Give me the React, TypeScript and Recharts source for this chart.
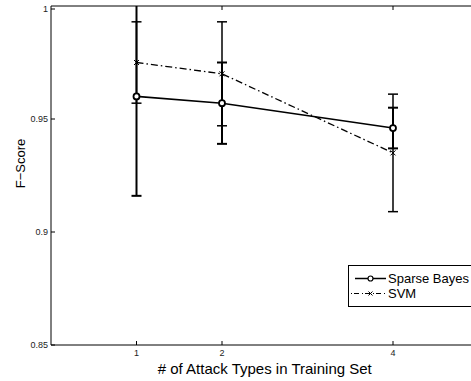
import { ComposedChart, Line, XAxis, YAxis, ErrorBar, Legend, Label } from "recharts";

const attackTypes = [1, 2, 4];
const sparseBayes = [0.96, 0.957, 0.946];
const sparseBayesErr = [0.044, 0.018, 0.009];
const svm = [0.975, 0.97, 0.935];
const svmErr = [0.018, 0.023, 0.026];
const xTicks = [1, 2, 4];
const yTicks = [0.85, 0.9, 0.95, 1];

const data = attackTypes.map((x, i) => ({
  x,
  sb: sparseBayes[i],
  sbErr: sparseBayesErr[i],
  svm: svm[i],
  svmErr: svmErr[i],
}));

const FONT = '"Liberation Sans", Arial, Helvetica, sans-serif';

function XTick({ x, y, payload }: any) {
  return (
    <g>
      <line x1={x} x2={x} y1={y} y2={y - 4} stroke="#000" />
      <text x={x} y={y + 11} textAnchor="middle" fontSize={9} fill="#222" style={{ fontFamily: FONT }}>
        {payload.value}
      </text>
    </g>
  );
}

function TopTick({ x, y }: any) {
  return <line x1={x} x2={x} y1={y} y2={y + 4} stroke="#000" />;
}

function YTick({ x, y, payload }: any) {
  return (
    <g>
      <line x1={x} x2={x + 4} y1={y} y2={y} stroke="#000" />
      <text x={x - 3} y={y + 3} textAnchor="end" fontSize={9} fill="#222" style={{ fontFamily: FONT }}>
        {payload.value}
      </text>
    </g>
  );
}

function XMark({ cx, cy }: any) {
  if (cx == null || cy == null) return null;
  const s = 2.5;
  return (
    <path
      d={`M${cx - s},${cy - s}L${cx + s},${cy + s}M${cx - s},${cy + s}L${cx + s},${cy - s}`}
      stroke="#000"
      strokeWidth={1}
      fill="none"
    />
  );
}

function LegendBox() {
  return (
    <div
      style={{
        border: "1px solid #000",
        background: "#fff",
        width: 130,
        height: 42,
        boxSizing: "border-box",
        paddingTop: 5,
        fontFamily: FONT,
        fontSize: 13,
        color: "#000",
      }}
    >
      <div style={{ display: "flex", alignItems: "center", height: 15 }}>
        <svg width={38} height={15}>
          <line x1={6} x2={37} y1={7.5} y2={7.5} stroke="#000" strokeWidth={1.5} />
          <circle cx={21.5} cy={7.5} r={2.5} stroke="#000" strokeWidth={1.2} fill="#fff" />
        </svg>
        <span style={{ marginLeft: 1 }}>Sparse Bayes</span>
      </div>
      <div style={{ display: "flex", alignItems: "center", height: 15 }}>
        <svg width={38} height={15}>
          <line x1={2} x2={37} y1={7.5} y2={7.5} stroke="#000" strokeWidth={1.2} strokeDasharray="1 2 5 3" />
          <path d="M19.5,5.5L23.5,9.5M19.5,9.5L23.5,5.5" stroke="#000" strokeWidth={1} />
        </svg>
        <span style={{ marginLeft: 1 }}>SVM</span>
      </div>
    </div>
  );
}

export default function App() {
  return (
    <div
      style={{
        position: "absolute",
        left: 0,
        top: 0,
        width: 471,
        height: 381,
        overflow: "hidden",
        background: "#fff",
      }}
    >
      <ComposedChart width={480} height={381} data={data} margin={{ top: 5, right: 1.5, bottom: 0, left: 0 }}>
        <defs>
          <clipPath id="plot-top-clip">
            <rect x={0} y={6} width={480} height={375} />
          </clipPath>
        </defs>
        <XAxis
          dataKey="x"
          type="number"
          domain={[0, 5]}
          ticks={xTicks}
          allowDataOverflow
          height={36}
          tickSize={0}
          tickMargin={0}
          tick={<XTick />}
          axisLine={{ stroke: "#000", strokeWidth: 1 }}
        >
          <Label
            content={({ viewBox }: any) => (
              <text
                x={viewBox.x + viewBox.width / 2}
                y={viewBox.y + 29}
                textAnchor="middle"
                fontSize={15}
                fill="#000"
                style={{ fontFamily: FONT }}
              >
                # of Attack Types in Training Set
              </text>
            )}
          />
        </XAxis>
        <XAxis
          xAxisId="top"
          orientation="top"
          dataKey="x"
          type="number"
          domain={[0, 5]}
          ticks={xTicks}
          allowDataOverflow
          height={1}
          tickSize={0}
          tickMargin={0}
          tick={<TopTick />}
          axisLine={{ stroke: "#000", strokeWidth: 1 }}
        />
        <YAxis
          type="number"
          domain={[0.85, 1]}
          ticks={yTicks}
          allowDataOverflow
          width={51}
          tickSize={0}
          tickMargin={0}
          tick={<YTick />}
          axisLine={{ stroke: "#000", strokeWidth: 1 }}
        >
          <Label
            content={({ viewBox }: any) => {
              const cx = 20;
              const cy = viewBox.y + viewBox.height / 2 - 12;
              return (
                <text
                  x={cx}
                  y={cy}
                  transform={`rotate(-90 ${cx} ${cy})`}
                  textAnchor="middle"
                  dominantBaseline="central"
                  fontSize={13}
                  fill="#000"
                  style={{ fontFamily: FONT }}
                >
                  F−Score
                </text>
              );
            }}
          />
        </YAxis>
        <Legend
          layout="horizontal"
          align="center"
          verticalAlign="middle"
          content={() => <LegendBox />}
          wrapperStyle={{ position: "absolute", left: 348, top: 265, width: 130, height: 42 }}
        />
        <Line
          dataKey="svm"
          name="SVM"
          type="linear"
          stroke="#000"
          strokeWidth={1.3}
          strokeDasharray="7 3 1.5 3"
          dot={<XMark />}
          activeDot={false}
          isAnimationActive={false}
        >
          <ErrorBar dataKey="svmErr" direction="y" width={5} stroke="#000" strokeWidth={1.5} clipPath="url(#plot-top-clip)" />
        </Line>
        <Line
          dataKey="sb"
          name="Sparse Bayes"
          type="linear"
          stroke="#000"
          strokeWidth={1.6}
          dot={{ r: 3, stroke: "#000", strokeWidth: 1.8, fill: "#fff" }}
          activeDot={false}
          isAnimationActive={false}
        >
          <ErrorBar dataKey="sbErr" direction="y" width={5} stroke="#000" strokeWidth={2} clipPath="url(#plot-top-clip)" />
        </Line>
      </ComposedChart>
    </div>
  );
}
